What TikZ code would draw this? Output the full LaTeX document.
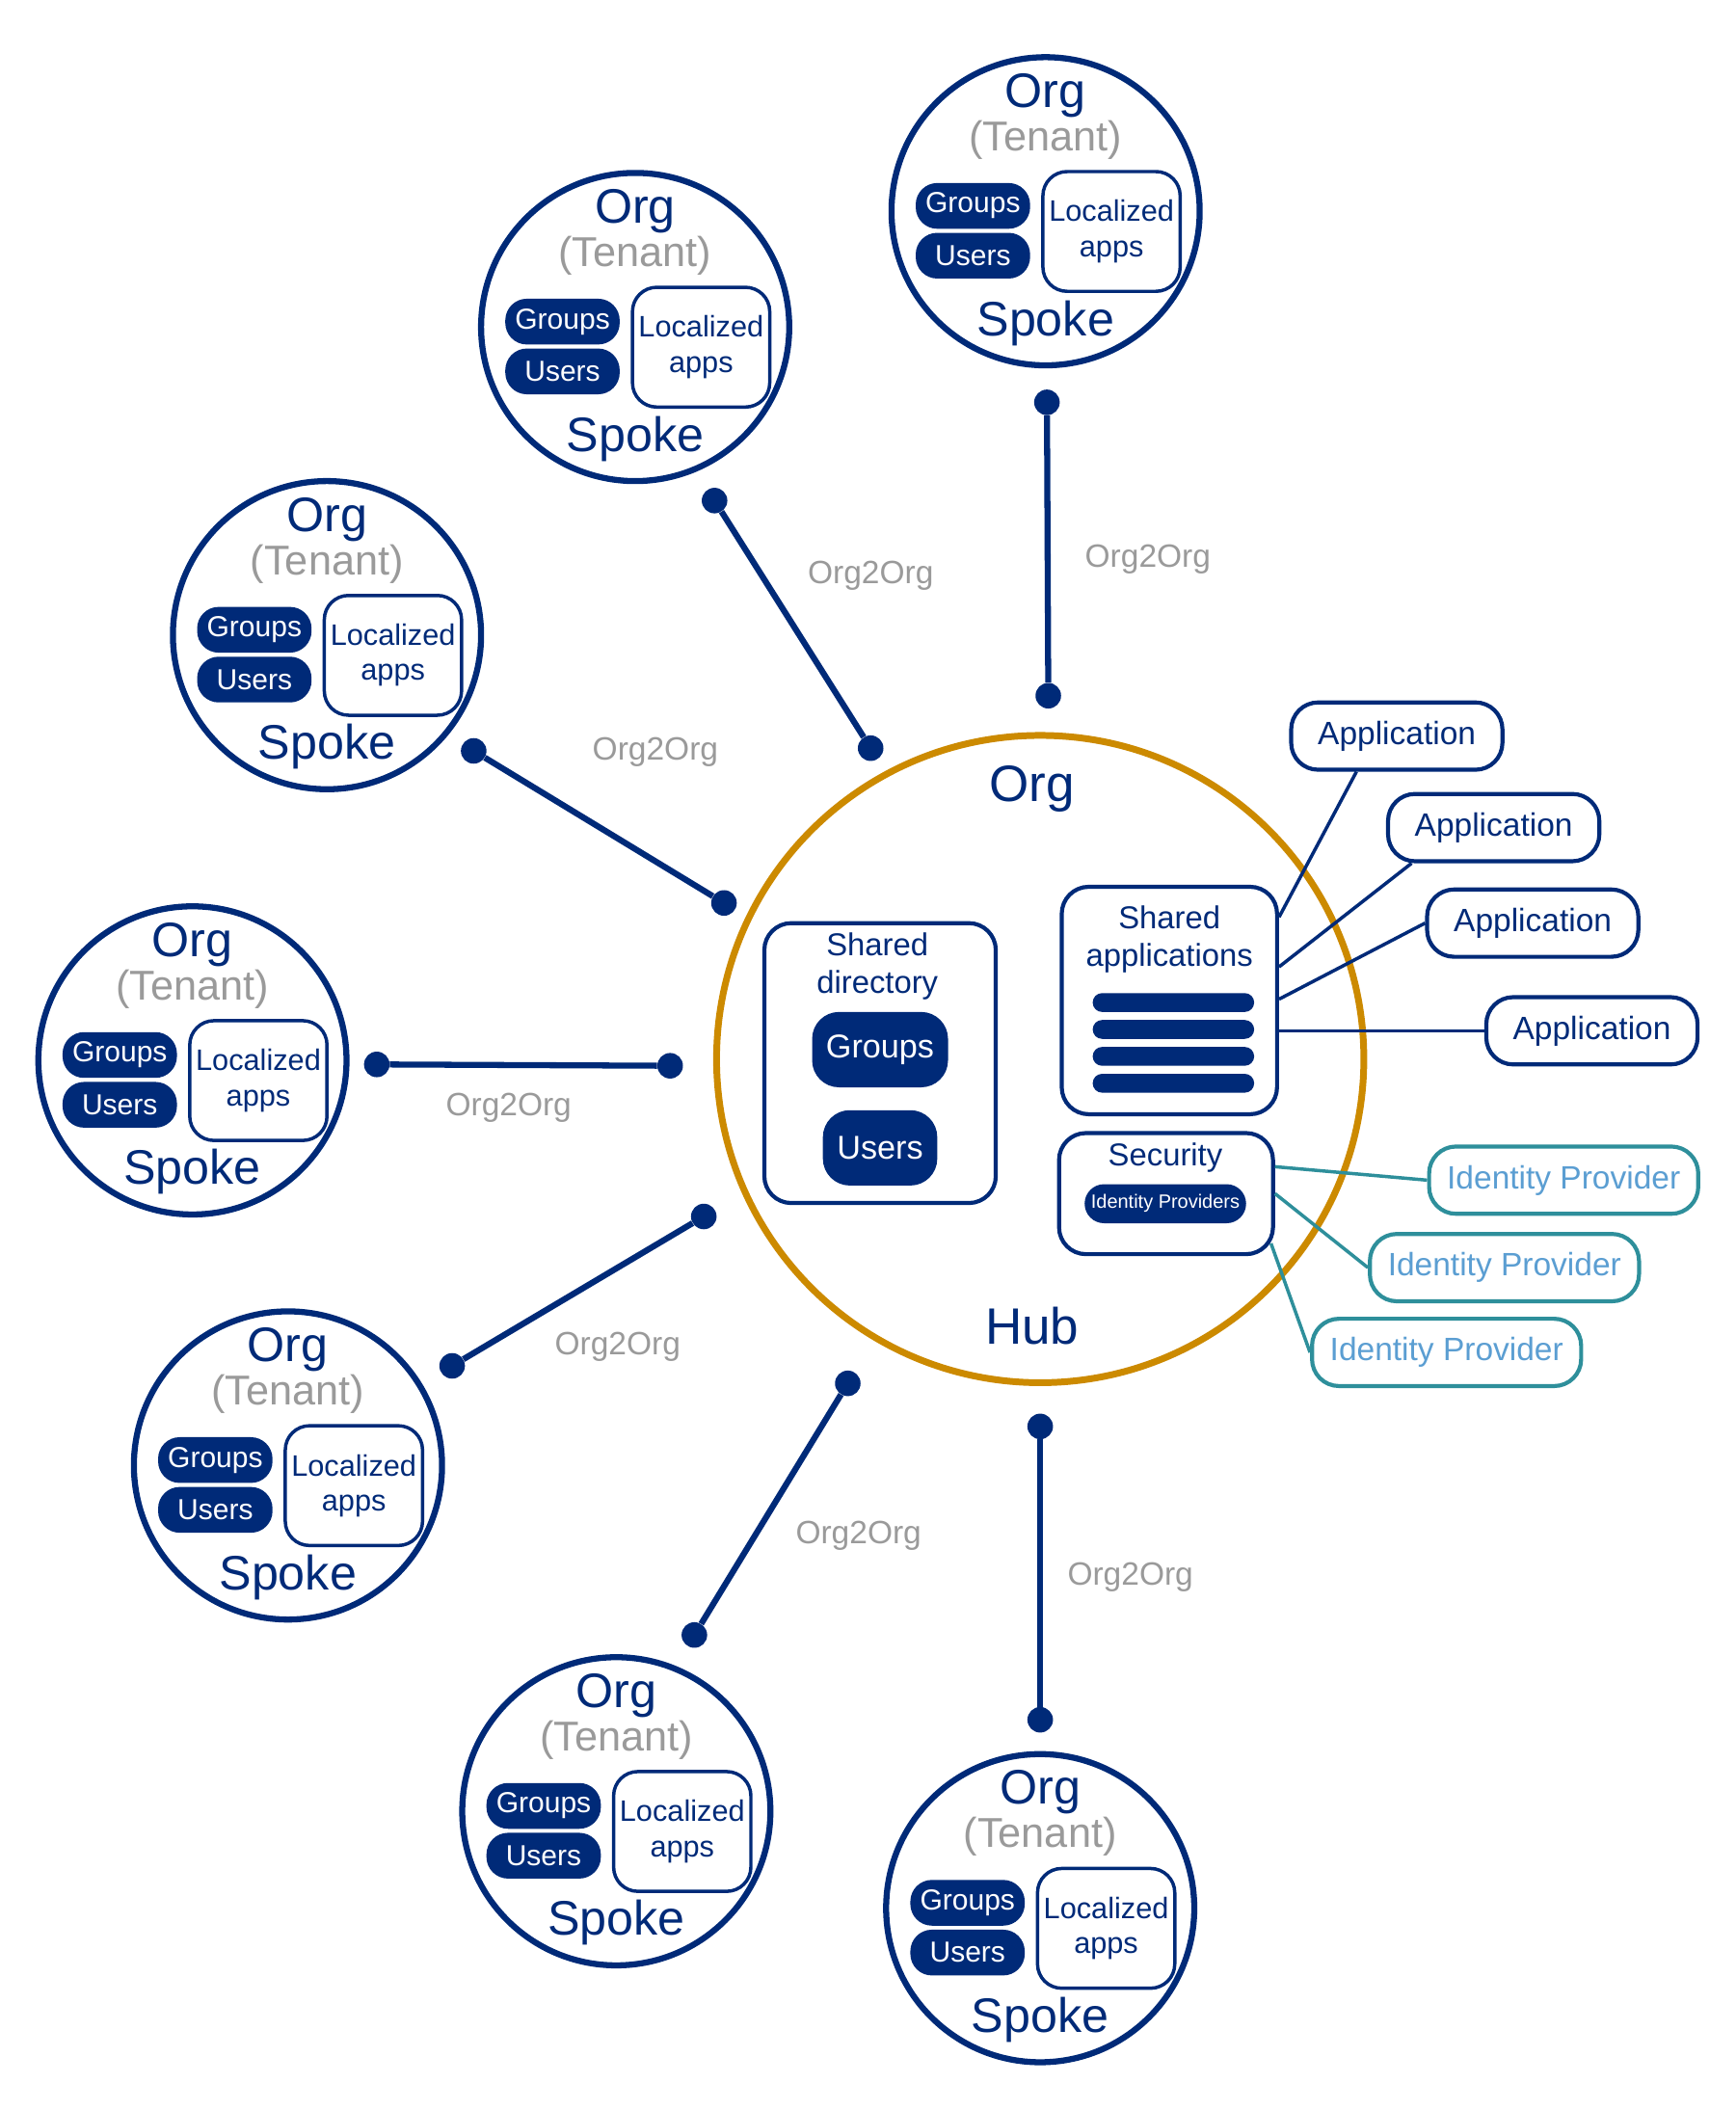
\documentclass[tikz,border=0pt]{standalone}
\usepackage{fontspec}
\setmainfont{Liberation Sans}
\usetikzlibrary{positioning}

\definecolor{navy}{HTML}{002A78}
\definecolor{hubgold}{HTML}{CC8A00}
\definecolor{idteal}{HTML}{2E8F9B}
\definecolor{idtext}{HTML}{5B9ED2}
\definecolor{linkgray}{HTML}{9A9A9A}

\tikzset{
  every node/.style={inner sep=0pt, text=navy},
  spoke/.style={circle, draw=navy, line width=4.5pt, minimum size=229pt},
  bigtxt/.style={font=\fontsize{36}{40}\selectfont},
  tenant/.style={text=linkgray, font=\fontsize{31}{34}\selectfont},
  pill/.style={fill=navy, text=white, rounded corners=16pt, minimum width=85pt, minimum height=34pt, font=\fontsize{21.5}{24}\selectfont},
  locbox/.style={draw=navy, line width=2.5pt, rounded corners=18pt, minimum width=102pt, minimum height=89pt, align=center, font=\fontsize{22}{26}\selectfont},
  box/.style={draw=navy, line width=3pt, rounded corners=20pt},
  midtxt/.style={align=center, font=\fontsize{23.5}{27.5}\selectfont},
  bar/.style={fill=navy, rounded corners=7pt, minimum width=120pt, minimum height=14pt},
  appbox/.style={draw=navy, line width=3pt, rounded corners=20pt, minimum width=157pt, minimum height=50pt, font=\fontsize{24}{28}\selectfont},
  idbox/.style={draw=idteal, text=idtext, line width=3pt, rounded corners=20pt, minimum width=200pt, minimum height=50pt, font=\fontsize{24}{28}\selectfont},
  appline/.style={draw=navy, line width=2.5pt},
  idline/.style={draw=idteal, line width=2.5pt},
  dot/.style={circle, fill=navy, minimum size=19pt},
  o2o/.style={draw=navy, line width=4.5pt},
  o2olabel/.style={text=linkgray, font=\fontsize{24}{28}\selectfont}
}

\begin{document}
\begin{tikzpicture}[x=1pt,y=-1pt]
  \useasboundingbox (0,0) rectangle (1290,1568);

  % Hub
  \node[circle, draw=hubgold, line width=5pt, minimum size=481pt] (hub) at (773,787) {};
  \node[font=\fontsize{38}{42}\selectfont] (huborg) at (767,586) {Org};
  \node[font=\fontsize{38}{42}\selectfont] (hubname) at (767,985) {Hub};

  % Shared directory
  \node[box, minimum width=172pt, minimum height=208pt] (sd) at (654,790) {};
  \node[midtxt] (sdtxt) at (652,718) {Shared\\directory};
  \node[pill, rounded corners=20pt, minimum width=101pt, minimum height=56pt, font=\fontsize{24.5}{28}\selectfont] (sdgrp) at (654,780) {Groups};
  \node[pill, rounded corners=20pt, minimum width=85pt, minimum height=56pt, font=\fontsize{24.5}{28}\selectfont] (sdusr) at (654,853) {Users};

  % Shared applications
  \node[box, minimum width=160pt, minimum height=169pt] (sa) at (869,743.5) {};
  \node[midtxt] (satxt) at (869,698) {Shared\\applications};
  \foreach \k/\by in {1/745,2/765,3/785,4/805}
    \node[bar] (bar\k) at (872,\by) {};

  % Security
  \node[box, minimum width=159pt, minimum height=90pt] (sec) at (866.5,887) {};
  \node[font=\fontsize{23.5}{27}\selectfont] (sectxt) at (866,860) {Security};
  \node[pill, rounded corners=14.5pt, minimum width=120pt, minimum height=29pt, font=\fontsize{14.3}{16}\selectfont] (secidp) at (866,894.5) {Identity Providers};

  % Applications
  \node[appbox] (app1) at (1038,547) {Application};
  \node[appbox] (app2) at (1110,615) {Application};
  \node[appbox] (app3) at (1139,686) {Application};
  \node[appbox] (app4) at (1183,766) {Application};
  \draw[appline] ([yshift=62pt]sa.east) -- ([xshift=-30pt]app1.south);
  \draw[appline] ([yshift=25pt]sa.east) -- ([xshift=-61pt]app2.south);
  \draw[appline] ([yshift=1pt]sa.east) -- (app3.west);
  \draw[appline] (sa.east |- app4.west) -- (app4.west);

  % Identity providers
  \node[idbox] (idp1) at (1162,877) {Identity Provider};
  \node[idbox] (idp2) at (1118,942) {Identity Provider};
  \node[idbox] (idp3) at (1075,1005) {Identity Provider};
  \draw[idline] ([yshift=20pt]sec.east) -- (idp1.west);
  \draw[idline] (sec.east) -- (idp2.west);
  \draw[idline] ([xshift=-3pt,yshift=-37pt]sec.east) -- (idp3.west);

  % Spokes
  \foreach \n/\cx/\cy in {1/777/157, 2/472/243, 3/243/472, 4/143/788, 5/214/1089, 6/458/1346, 7/773/1418}{
    \node[spoke] (s\n) at (\cx,\cy) {};
    \node[bigtxt] (org\n) at (\cx,\cy-86) {Org};
    \node[tenant] (ten\n) at (\cx,\cy-53) {(Tenant)};
    \node[pill] (grp\n) at (\cx-54,\cy-4) {Groups};
    \node[pill] (usr\n) at (\cx-54,\cy+33) {Users};
    \node[locbox] (loc\n) at (\cx+49,\cy+15) {Localized\\apps};
    \node[bigtxt] (spk\n) at (\cx,\cy+83) {Spoke};
  }

  % Org2Org links
  \foreach \i/\ax/\ay/\bx/\by/\lx/\ly in {1/778/299/779/517/853/416, 2/531/372/647/556/647/428,
      3/352/558/538/671/487/559, 4/280/791/498/792/378/823, 5/336/1015/523/904/459/1001,
      6/516/1215/630/1028/638/1141, 7/773/1278/773/1060/840/1172}{
    \node[dot] (a\i) at (\ax,\ay) {};
    \node[dot] (b\i) at (\bx,\by) {};
    \draw[o2o] (a\i) -- (b\i);
    \node[o2olabel] (l\i) at (\lx,\ly) {Org2Org};
  }
\end{tikzpicture}
\end{document}
